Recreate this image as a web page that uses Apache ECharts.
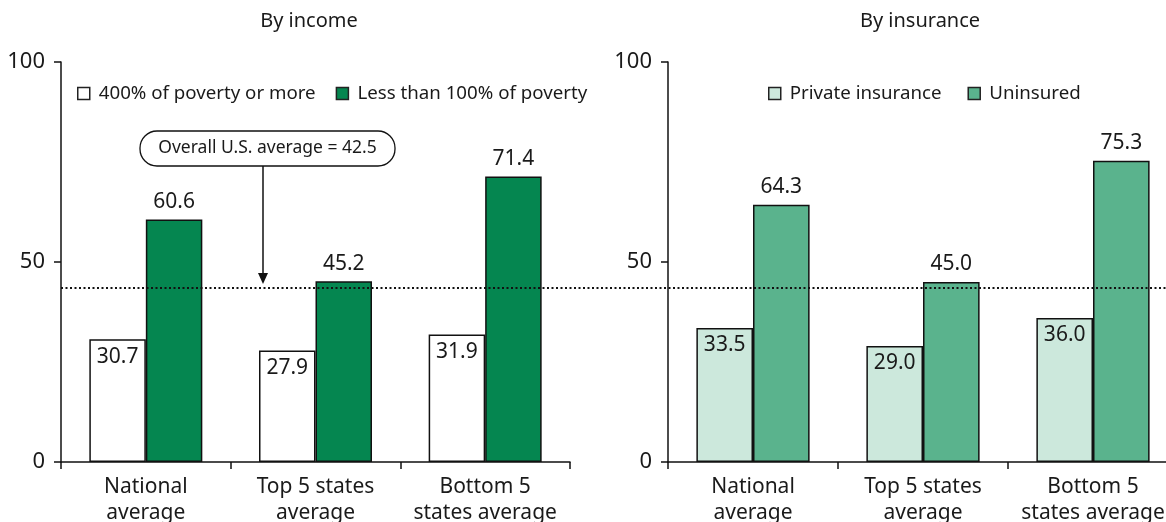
<!DOCTYPE html>
<html><head><meta charset="utf-8">
<script src="https://cdn.jsdelivr.net/npm/echarts@6/dist/echarts.min.js"></script>
<style>html,body{margin:0;padding:0;background:#fff}#c{width:1166px;height:522px}</style>
</head><body><div id="c"></div>
<script>
const categories = ['National\naverage', 'Top 5 states\naverage', 'Bottom 5\nstates average'];
const incomeHigh = [30.7, 27.9, 31.9];   // 400% of poverty or more
const incomeLow = [60.6, 45.2, 71.4];    // Less than 100% of poverty
const insPrivate = [33.5, 29.0, 36.0];   // Private insurance
const insUninsured = [64.3, 45.0, 75.3]; // Uninsured
const yTicks = [0, 50, 100];
const overallAvgText = 42.5;
const avgLineLevel = 43.6; // as drawn in the picture

const FONT = 'Noto Sans';
const TXT = '#1a1a1a';
const chart = echarts.init(document.getElementById('c'), null, {renderer: 'canvas'});

function yAxisCfg(gi) {
  return {
    gridIndex: gi, type: 'value', min: yTicks[0], max: yTicks[yTicks.length - 1], interval: 50,
    axisLine: {show: true, lineStyle: {color: '#111', width: 1.5}},
    axisTick: {show: true, length: 7, lineStyle: {color: '#111', width: 1.5}},
    axisLabel: {fontFamily: FONT, fontSize: 22, color: TXT, margin: 16},
    splitLine: {show: false}
  };
}
function xAxisCfg(gi) {
  return {
    gridIndex: gi, type: 'category', data: categories,
    axisLine: {show: true, lineStyle: {color: '#111', width: 1.5}},
    axisTick: {show: true, length: 7, lineStyle: {color: '#111', width: 1.5}},
    axisLabel: {fontFamily: FONT, fontSize: 21, color: TXT, margin: 12, lineHeight: 26, interval: 0}
  };
}
function barSeries(name, data, gi, color, pos) {
  return {
    type: 'bar', name: name, data: data, xAxisIndex: gi, yAxisIndex: gi,
    barWidth: '33.3%', barGap: '0%',
    itemStyle: {color: color, borderColor: '#111', borderWidth: 1.5},
    label: {show: true, position: pos, distance: 7, fontFamily: FONT, fontSize: 21, color: TXT,
      formatter: p => p.value.toFixed(1)},
    animation: false
  };
}
const legendBase = {
  itemWidth: 12, itemHeight: 12, icon: 'rect', itemGap: 20,
  textStyle: {fontFamily: FONT, fontSize: 18.7, color: TXT, padding: [0, 0, 0, 4]},
  itemStyle: {borderColor: '#222', borderWidth: 1.5}
};
const titleStyle = {fontFamily: FONT, fontSize: 20, fontWeight: 'normal', color: TXT};

chart.setOption({
  animation: false,
  title: [
    {text: 'By income', left: 304, top: 6, textAlign: 'center', textStyle: titleStyle},
    {text: 'By insurance', left: 915, top: 6, textAlign: 'center', textStyle: titleStyle}
  ],
  legend: [
    Object.assign({}, legendBase, {data: ['400% of poverty or more', 'Less than 100% of poverty'], left: 72, top: 79}),
    Object.assign({}, legendBase, {data: ['Private insurance', 'Uninsured'], left: 763, top: 79, itemGap: 26})
  ],
  grid: [
    {left: 61, right: 596, top: 62, bottom: 60, outerBoundsMode: 'none', containLabel: false},
    {left: 668, right: -12, top: 62, bottom: 60, outerBoundsMode: 'none', containLabel: false},
    {left: 61, right: 0, top: 62, bottom: 60, outerBoundsMode: 'none', containLabel: false}
  ],
  xAxis: [xAxisCfg(0), xAxisCfg(1), {gridIndex: 2, type: 'value', min: 0, max: 1, show: false}],
  yAxis: [yAxisCfg(0), yAxisCfg(1), {gridIndex: 2, type: 'value', min: 0, max: 100, show: false}],
  series: [
    barSeries('400% of poverty or more', incomeHigh, 0, '#ffffff', 'insideTop'),
    barSeries('Less than 100% of poverty', incomeLow, 0, '#058650', 'top'),
    barSeries('Private insurance', insPrivate, 1, '#cce8dc', 'insideTop'),
    barSeries('Uninsured', insUninsured, 1, '#5ab38d', 'top'),
    {
      type: 'line', xAxisIndex: 2, yAxisIndex: 2, data: [], silent: true,
      markLine: {
        silent: true, symbol: ['none', 'none'], label: {show: false},
        lineStyle: {color: '#111', width: 2, type: [2, 2.5]},
        data: [{yAxis: avgLineLevel}]
      }
    }
  ],
  graphic: [
    {type: 'rect', shape: {x: 140, y: 131, width: 255, height: 35, r: 17},
     style: {fill: '#fff', stroke: '#111', lineWidth: 1.3}, z: 100},
    {type: 'text', x: 267.5, y: 148.5, z: 101,
     style: {text: 'Overall U.S. average = ' + overallAvgText.toFixed(1), fontFamily: FONT, fontSize: 17.5,
       fill: TXT, align: 'center', verticalAlign: 'middle'}},
    {type: 'line', shape: {x1: 263, y1: 166, x2: 263, y2: 276}, style: {stroke: '#111', lineWidth: 1.5}, z: 100},
    {type: 'polygon', shape: {points: [[258, 273], [268, 273], [263, 284]]}, style: {fill: '#111'}, z: 100}
  ]
});
</script></body></html>
